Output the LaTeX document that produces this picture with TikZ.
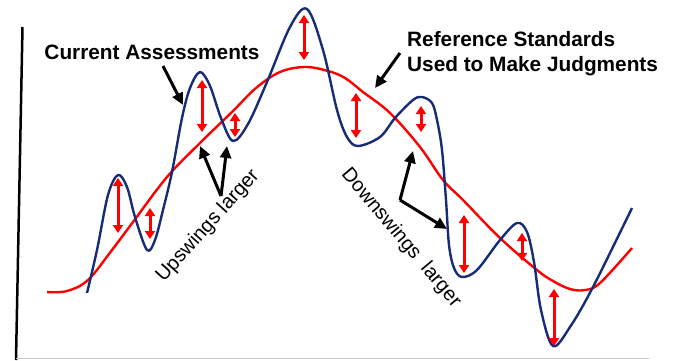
\documentclass[tikz,border=0pt]{standalone}
\usepackage{fontspec}
\setmainfont{Liberation Sans}
\usepackage{xcolor}
\usepackage{tikz}
\usetikzlibrary{arrows.meta}
\definecolor{navy}{RGB}{22,44,118}
\tikzset{
  refline/.style  = {red, line width=2.4pt, line join=round},
  curline/.style  = {navy, line width=2.4pt, line join=round},
  gap/.style      = {red, line width=3pt,
                     {Triangle[length=8pt,width=10pt]}-{Triangle[length=8pt,width=10pt]}},
  callout/.style  = {line width=3pt, -{Triangle[length=12pt,width=11pt]}},
  boldlab/.style  = {font=\fontsize{20.8}{25}\selectfont\bfseries, inner sep=0pt},
  swinglab/.style = {font=\fontsize{20}{22}\selectfont, inner sep=0pt},
}

\begin{document}
\begin{tikzpicture}[x=1pt,y=-1pt]
\useasboundingbox (0,0) rectangle (673,360);
% axes
\draw[line width=2.5pt] (22.5,27) -- (16,360);
\draw[black!22, line width=1.2pt] (16,358.5) -- (649,358.5);
% reference standards
\draw[refline] plot[smooth, tension=0.6] coordinates {
  (47,292) (67,291) (88,280) (112,250) (133,222) (167,177) (200,143)
  (233,111) (256,88) (280,72) (305,67) (328,71) (345,78) (363,92)
  (390,113) (420,147) (443,180) (463,200) (500,238) (537,270)
  (553,281) (570,289) (585,290) (600,283) (632,248)};
% current assessments
\draw[curline] plot[smooth, tension=0.55] coordinates {
  (87,293) (97,250) (108,195) (118,175) (127,187) (135,217) (147,250)
  (155,240) (163,210) (172,172) (182,118) (190,88) (200,72) (210,86)
  (221,118) (233,141) (248,124) (267,82) (290,27) (307,9) (323,50)
  (337,110) (347,137) (358,146) (380,137) (395,118) (413,100) (422,97)
  (432,103) (437,120) (442,150) (446,200) (449,245) (454,268) (462,277)
  (477,270) (500,240) (517,223) (527,232) (534,262) (541,310) (553,346)
  (570,327) (593,287) (632,208)};
% gaps between the curves
\foreach \x/\t/\b [count=\i] in {118/178/233, 150/208/239, 202/80/132,
    235/113/137, 304/15/60, 356/93/138, 421/106/132, 464/215/273,
    522/233/261, 554/289/346}{
  \coordinate (gt\i) at (\x,\t);
  \coordinate (gb\i) at (\x,\b);
  \draw[gap] (gt\i) -- (gb\i);
}
% labels
\node[boldlab] (cur) at (152,52) {Current Assessments};
\node[boldlab, align=left, anchor=north west] (ref) at (407,31)
  {Reference Standards\\Used to Make Judgments};
\node[swinglab, rotate=48] (up) at (208,226) {Upswings larger};
\node[swinglab, rotate=-50] (down) at (401,238) {Downswings\ \ larger};
% callouts
\coordinate (cur-tail) at (163,66);
\coordinate (cur-tip) at (183,105);
\coordinate (ref-tail) at (400,53);
\coordinate (ref-tip) at (375,88);
\coordinate (up-v) at (221,196);
\coordinate (up-tip1) at (200,146);
\coordinate (up-tip2) at (227,146);
\coordinate (down-v) at (400,200);
\coordinate (down-tip1) at (413,151);
\coordinate (down-tip2) at (447,229);
\draw[callout] (cur-tail) -- (cur-tip);
\draw[callout] (ref-tail) -- (ref-tip);
\draw[callout] (up-v) -- (up-tip1);
\draw[callout] (up-v) -- (up-tip2);
\draw[callout] (down-v) -- (down-tip1);
\draw[callout] (down-v) -- (down-tip2);
\end{tikzpicture}
\end{document}
